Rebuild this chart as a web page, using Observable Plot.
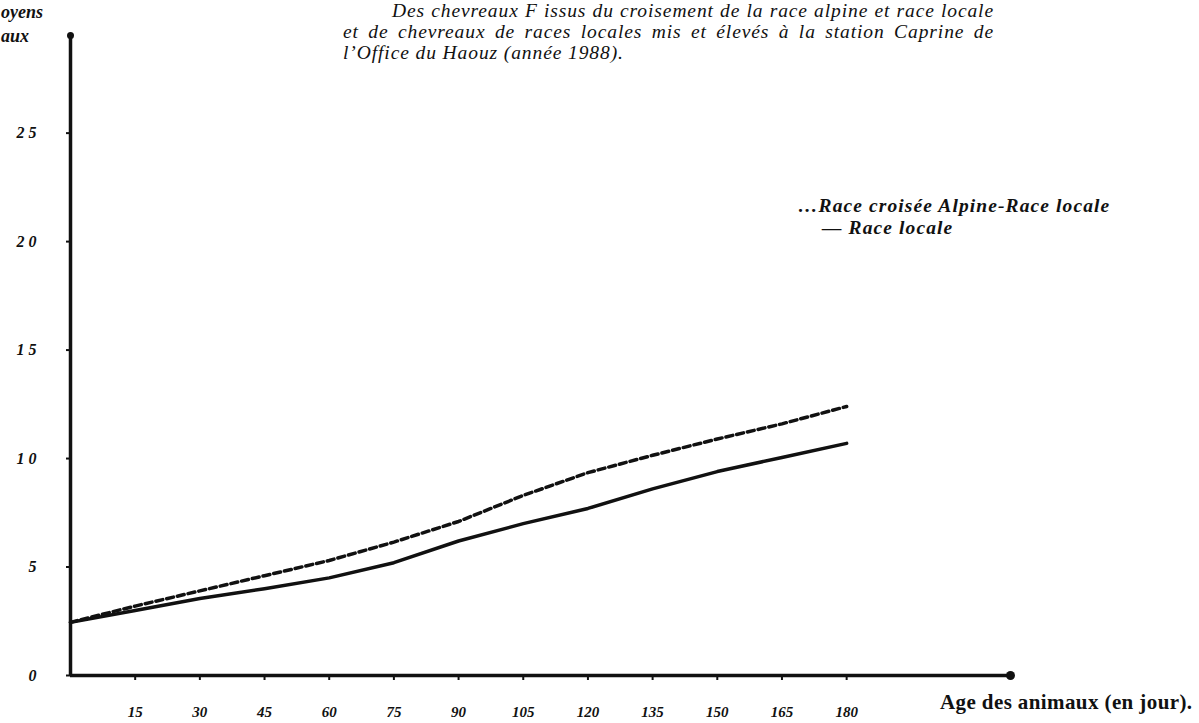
<!DOCTYPE html>
<html>
<head>
<meta charset="utf-8">
<script src="https://cdn.jsdelivr.net/npm/d3@7"></script>
<script src="https://cdn.jsdelivr.net/npm/@observablehq/plot@0.6"></script>
<style>
  html, body { margin: 0; padding: 0; background: #fff; }
  #wrap { position: relative; width: 1199px; height: 723px; overflow: hidden; background: #fff; color: #111; }
  #wrap svg { position: absolute; left: 0; top: 0; }
  .ov { position: absolute; font-family: "Liberation Serif", "DejaVu Serif", serif; color: #111; white-space: nowrap; }
  #title { left: 343px; top: 0px; width: 651px; font-size: 19.5px; font-style: italic; line-height: 21px; letter-spacing: 0.9px; }
  #title .j { text-align: justify; text-align-last: justify; }
  #ylab { left: 1px; top: 0px; text-align: left; font-size: 18px; font-style: italic; font-weight: bold; line-height: 24px; }
  #legend { left: 798px; top: 195px; font-size: 19.5px; font-style: italic; font-weight: bold; line-height: 22px; letter-spacing: 1.1px; }
  #xlab { left: 940px; top: 692px; font-size: 21px; font-weight: bold; line-height: 1; letter-spacing: 0.4px; }
  g[aria-label="y-axis tick label"] text { letter-spacing: 4px; }
</style>
</head>
<body>
<div id="wrap">
  <div id="chart"></div>
  <div class="ov" id="ylab">oyens<br>aux</div>
  <div class="ov" id="title">
    <div class="j" style="text-indent:49px">Des chevreaux F issus du croisement de la race alpine et race locale</div>
    <div class="j">et de chevreaux de races locales mis et élevés à la station Caprine de</div>
    <div>l’Office du Haouz (année 1988).</div>
  </div>
  <div class="ov" id="legend">…Race croisée Alpine-Race locale<br><span style="padding-left:24px">— Race locale</span></div>
  <div class="ov" id="xlab">Age des animaux (en jour).</div>
</div>
<script>
// Age (days)
const ages = [0, 15, 30, 45, 60, 75, 90, 105, 120, 135, 150, 165, 180];
// Mean weight, crossbred Alpine x local (dashed)
const croisee = [2.45, 3.2, 3.9, 4.6, 5.3, 6.15, 7.1, 8.3, 9.35, 10.15, 10.9, 11.6, 12.4];
// Mean weight, local breed (solid)
const locale = [2.45, 3.0, 3.55, 4.0, 4.5, 5.2, 6.2, 7.0, 7.7, 8.6, 9.4, 10.05, 10.7];
// Tick labels
const xTicks = [15, 30, 45, 60, 75, 90, 105, 120, 135, 150, 165, 180];
const yTicks = [0, 5, 10, 15, 20, 25];

const dCroisee = ages.map((a, i) => ({age: a, poids: croisee[i]}));
const dLocale = ages.map((a, i) => ({age: a, poids: locale[i]}));

const ink = "#111";
const chart = Plot.plot({
  width: 1199,
  height: 723,
  marginLeft: 70,
  marginRight: 189,
  marginTop: 35,
  marginBottom: 48,
  style: {fontFamily: "Liberation Serif", fontStyle: "italic", fontWeight: "bold", color: ink, background: "transparent"},
  x: {domain: [0, 218]},
  y: {domain: [0, 29.5]},
  marks: [
    Plot.axisY({ticks: yTicks, tickSize: 4, tickPadding: 26, fontSize: 16, label: null, tickFormat: d => String(d), strokeWidth: 2}),
    Plot.axisX({ticks: xTicks, tickSize: 5, tickPadding: 26, fontSize: 15, label: null, tickFormat: d => String(d), strokeWidth: 2}),
    Plot.ruleY([0], {stroke: ink, strokeWidth: 3.5}),
    Plot.ruleX([0], {stroke: ink, strokeWidth: 3.5}),
    Plot.dot([0], {frameAnchor: "top-left", r: 3.5, fill: ink}),
    Plot.dot([0], {frameAnchor: "bottom-right", r: 4.5, fill: ink}),
    Plot.line(dLocale, {x: "age", y: "poids", stroke: ink, strokeWidth: 3.5, strokeLinecap: "round"}),
    Plot.line(dCroisee, {x: "age", y: "poids", stroke: ink, strokeWidth: 3.5, strokeDasharray: "7,4", strokeLinecap: "round"})
  ]
});
document.getElementById("chart").appendChild(chart);
</script>
</body>
</html>
